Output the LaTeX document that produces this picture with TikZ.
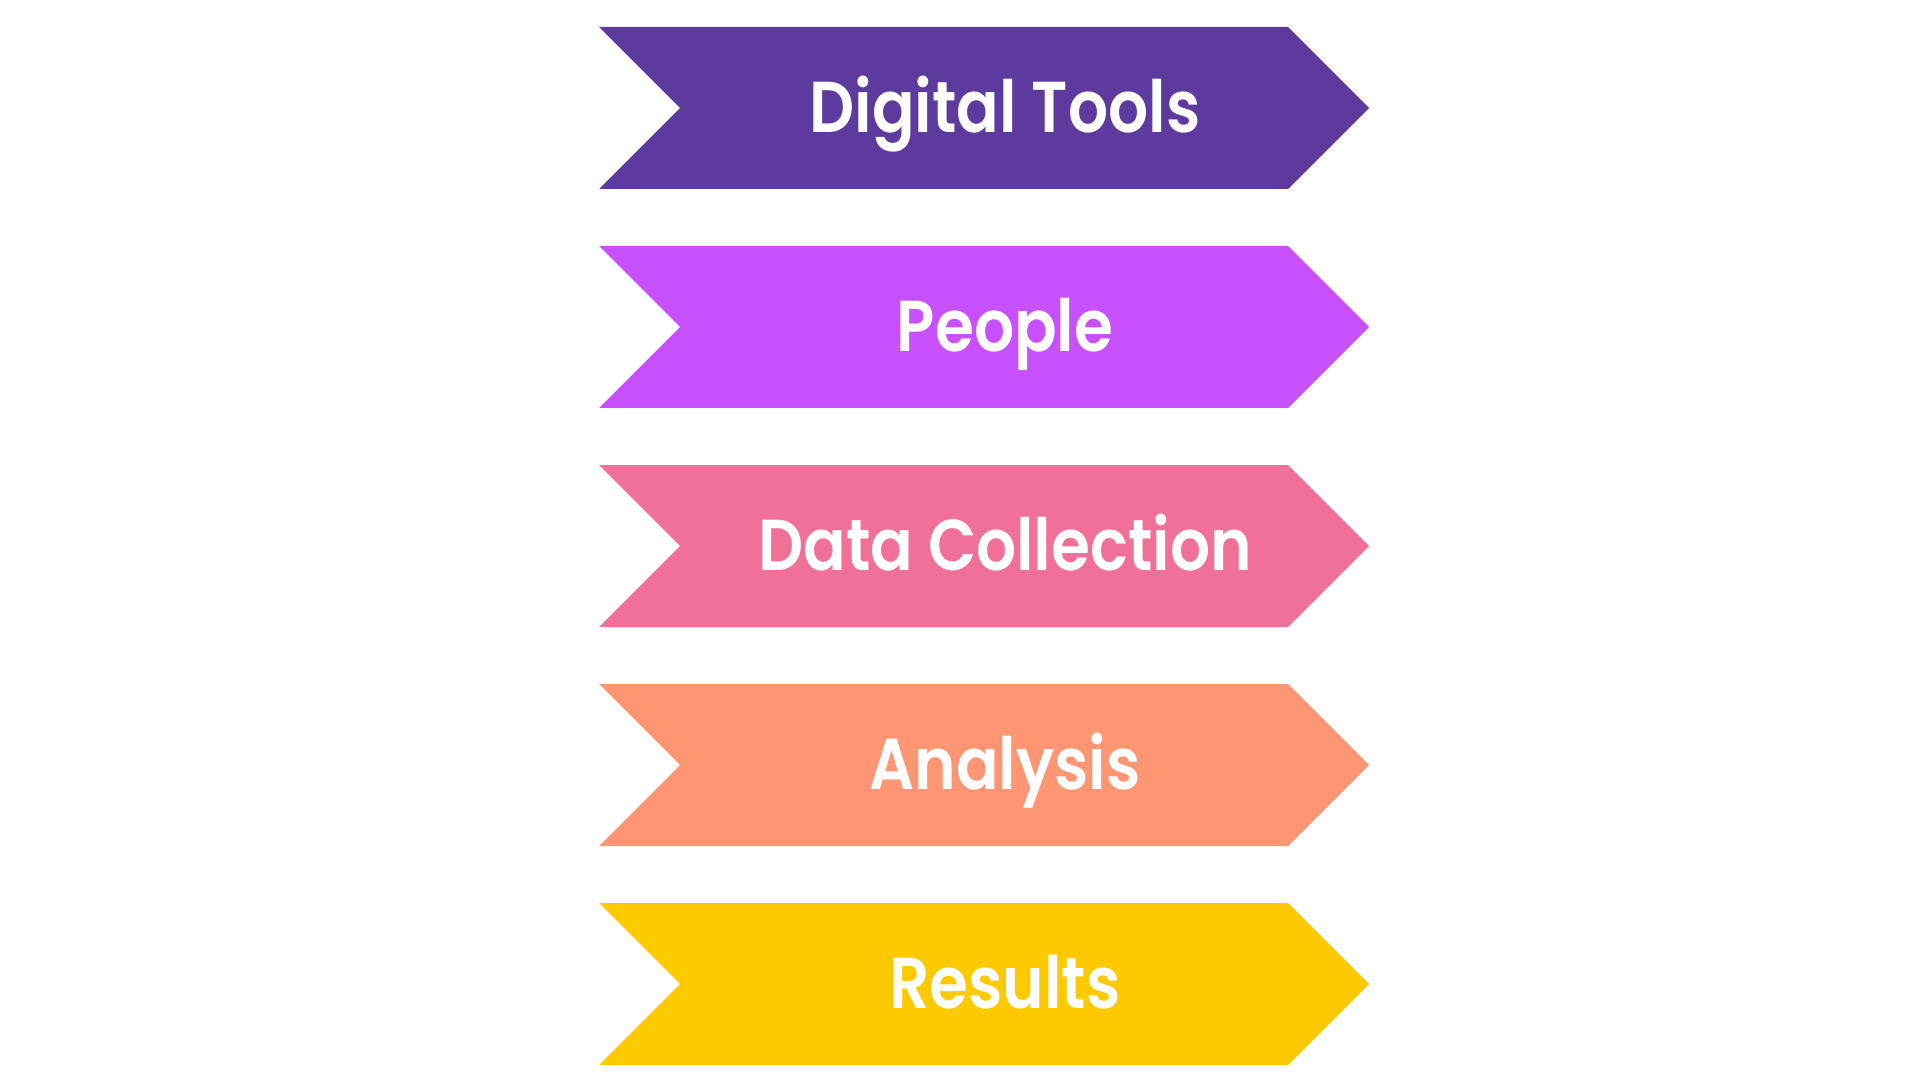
\documentclass[tikz,border=0pt]{standalone}
\usepackage{graphicx}
\usepackage{fontspec}
\IfFontExistsTF{Poppins SemiBold}{%
    \newfontfamily\bandfont{Poppins SemiBold}
    \newcommand{\bandlabel}[1]{\scalebox{0.873}[1]{#1}}
}{%
    \newfontfamily\bandfont{Poppins}[RawFeature={embolden=2.5}]
    \newcommand{\bandlabel}[1]{\scalebox{0.89}[1]{#1}}
}
\usetikzlibrary{positioning, shapes.symbols}
\definecolor{toolscol}{RGB}{93,58,158}
\definecolor{peoplecol}{RGB}{200,80,255}
\definecolor{datacol}{RGB}{240,112,152}
\definecolor{analysiscol}{RGB}{255,150,115}
\definecolor{resultscol}{RGB}{253,202,0}
\tikzset{
    band/.style={signal, signal from=west, signal to=east, signal pointer angle=90, minimum width=7.7cm, minimum height=1.62cm, inner sep=0pt, outer sep=0pt, draw=none},
    band_text/.style={text=white, font=\bandfont\fontsize{20.5}{24}\selectfont, anchor=base, inner sep=0pt},
}
\begin{document}
\begin{tikzpicture}[node distance=0.57cm]
    \useasboundingbox (0,0) rectangle (19.2,-10.8);
    %%%%%%%%%%
    % ARROWS %
    %%%%%%%%%%
    \node (tools) [band, fill=toolscol] at (9.84,-1.08) {};
    \node (people) [band, fill=peoplecol, below = of tools] {};
    \node (data) [band, fill=datacol, below = of people] {};
    \node (analysis) [band, fill=analysiscol, below = of data] {};
    \node (results) [band, fill=resultscol, below = of analysis] {};
    %%%%%%%%%%
    % LABELS %
    %%%%%%%%%%
    \node (tools_txt) [band_text] at ([shift={(0.21,-0.245)}]tools.center) {\bandlabel{Digital Tools}};
    \node (people_txt) [band_text] at ([shift={(0.21,-0.245)}]people.center) {\bandlabel{People}};
    \node (data_txt) [band_text] at ([shift={(0.21,-0.245)}]data.center) {\bandlabel{Data Collection}};
    \node (analysis_txt) [band_text] at ([shift={(0.21,-0.245)}]analysis.center) {\bandlabel{Analysis}};
    \node (results_txt) [band_text] at ([shift={(0.21,-0.245)}]results.center) {\bandlabel{Results}};
\end{tikzpicture}
\end{document}
